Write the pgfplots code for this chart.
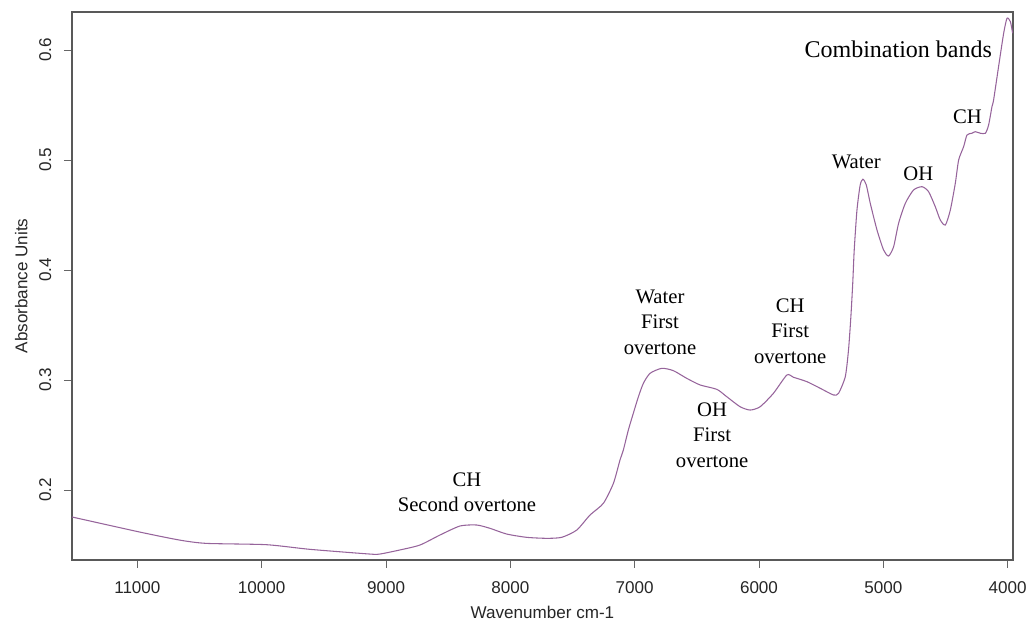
\documentclass[border=0pt]{standalone}
\usepackage{fontspec}
\setmainfont{Liberation Sans}
\newfontfamily\timesf{Liberation Serif}
\usepackage{pgfplots}
\pgfplotsset{compat=1.18}
\definecolor{spec}{RGB}{150,100,155}
\begin{document}
\begin{tikzpicture}
\path[use as bounding box] (-54pt,-47.25pt) rectangle (717pt,420pt);
\begin{axis}[
  at={(0pt,0pt)}, anchor=south west,
  scale only axis, width=705.75pt, height=411pt,
  x dir=reverse,
  xmin=3957, xmax=11526, ymin=0.1364, ymax=0.6345,
  xtick={4000,5000,...,11000}, ytick={0.2,0.3,0.4,0.5,0.6},
  scaled x ticks=false, scaled y ticks=false,
  tick pos=left, tick align=outside, major tick length=6pt,
  tick style={black!60, line width=0.6pt},
  axis line style={black!65, line width=0.8pt},
  font=\fontsize{12.8}{15}\selectfont,
  /pgf/number format/assume math mode=true,
  xticklabel style={/pgf/number format/set thousands separator={}, anchor=center, yshift=-15pt, text=black!85},
  yticklabel style={/pgf/number format/fixed, /pgf/number format/fixed zerofill, /pgf/number format/precision=1, anchor=center, xshift=-14pt, rotate=90, text=black!85},
  xlabel={Wavenumber cm-1}, ylabel={Absorbance Units},
  xlabel style={at={(axis description cs:0.5,-0.0949)}, anchor=center, text=black!85},
  ylabel style={at={(axis description cs:-0.0538,0.5)}, anchor=center, text=black!85},
]
\addplot[spec, line width=0.8pt, smooth, tension=0.4] coordinates {
(11526,0.1755) (10981,0.1618) (10660,0.1545) (10445,0.1515) (9962,0.1503)
(9613,0.1461) (9130,0.1418) (9050,0.1418) (8889,0.1455) (8727,0.1500)
(8566,0.1591) (8405,0.1673) (8271,0.1682) (8164,0.1652) (8030,0.1600)
(7869,0.1570) (7708,0.1561) (7587,0.1570) (7466,0.1636) (7359,0.1773)
(7252,0.1879) (7171,0.2061) (7118,0.2273) (7091,0.2364) (7051,0.2545)
(7011,0.2697) (6970,0.2848) (6930,0.2970) (6876,0.3061) (6782,0.3106)
(6689,0.3085) (6581,0.3015) (6474,0.2955) (6339,0.2915) (6259,0.2848)
(6152,0.2757) (6071,0.2727) (5991,0.2757) (5884,0.2879) (5776,0.3045)
(5723,0.3025) (5615,0.2985) (5508,0.2925) (5401,0.2864) (5360,0.2879)
(5306,0.3030) (5280,0.3273) (5261,0.3575) (5246,0.3879) (5234,0.4182)
(5212,0.4545) (5186,0.4773) (5164,0.4825) (5137,0.4773) (5105,0.4606)
(5051,0.4364) (4998,0.4182) (4958,0.4127) (4917,0.4212) (4877,0.4425)
(4823,0.4606) (4757,0.4727) (4689,0.4757) (4636,0.4712) (4582,0.4575)
(4542,0.4455) (4501,0.4409) (4461,0.4545) (4421,0.4788) (4394,0.5000)
(4354,0.5121) (4327,0.5227) (4287,0.5243) (4260,0.5257) (4220,0.5243)
(4179,0.5243) (4153,0.5318) (4126,0.5485) (4113,0.5545) (4073,0.5848)
(4032,0.6152) (4005,0.6288) (3978,0.6257) (3960,0.6152)
};
\node[font=\timesf\fontsize{18}{21}\selectfont] at (4880,0.6009) {Combination bands};
\node[font=\timesf\fontsize{15.5}{19}\selectfont] at (4324,0.5391) {CH};
\node[font=\timesf\fontsize{15.5}{19}\selectfont] at (5218,0.4982) {Water};
\node[font=\timesf\fontsize{15.5}{19}\selectfont] at (4719,0.4873) {OH};
\node[font=\timesf\fontsize{15.5}{19}\selectfont, align=center] at (6796,0.3527) {Water\\First\\overtone};
\node[font=\timesf\fontsize{15.5}{19}\selectfont, align=center] at (5749,0.3445) {CH\\First\\overtone};
\node[font=\timesf\fontsize{15.5}{19}\selectfont, align=center] at (6377,0.2500) {OH\\First\\overtone};
\node[font=\timesf\fontsize{15.5}{19}\selectfont, align=center] at (8349,0.1982) {CH\\Second overtone};
\end{axis}
\end{tikzpicture}
\end{document}
